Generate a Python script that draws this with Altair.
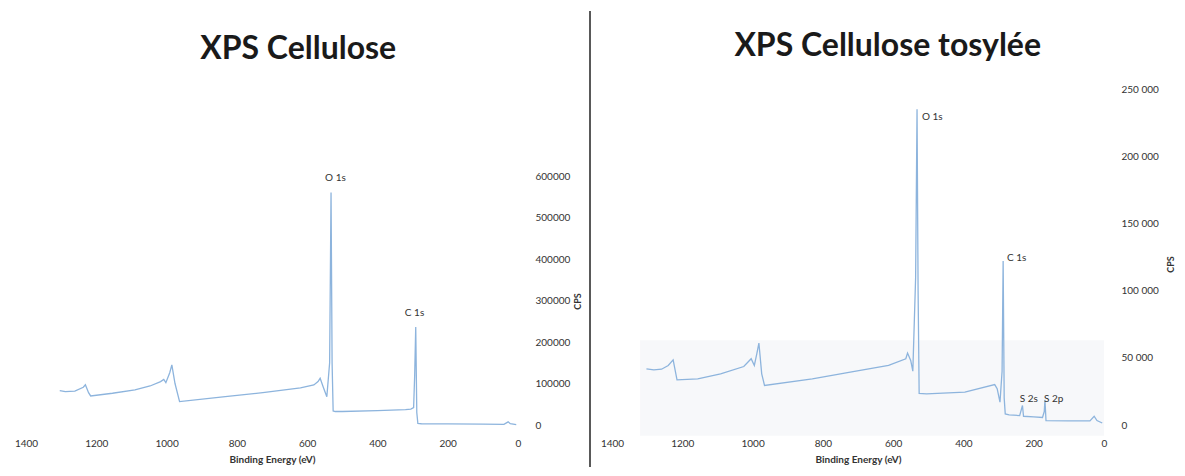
import altair as alt
import pandas as pd

# ---------------- data: XPS Cellulose ----------------
cel_be = [1304, 1288, 1261, 1237, 1231, 1222, 1216, 1154, 1090, 1047, 1017, 1008, 1002,
          991, 985, 976, 963, 833, 726, 619, 581, 569, 563, 554, 544, 536, 532, 529, 526,
          520, 500, 400, 320, 305, 297, 294, 291, 288, 285, 275, 200, 100, 40, 28, 22, 5]
cel_cps = [83000, 80500, 81500, 91000, 97000, 78000, 70000, 76500, 84500, 94000, 104500,
           110000, 102000, 126000, 145000, 100000, 56500, 68500, 78000, 89500, 96500,
           104500, 112500, 91000, 68000, 150000, 560000, 150000, 34000, 32500, 32500,
           34500, 37000, 38500, 42000, 120000, 236000, 30000, 4000, 3000, 2500, 2000,
           1500, 7500, 3000, 800]
cel_lab_txt = ["O 1s", "C 1s"]
cel_lab_be = [549, 322]
cel_lab_cps = [595000, 270000]
cel_ticks = [0, 100000, 200000, 300000, 400000, 500000, 600000]

# ---------------- data: XPS Cellulose tosylée ----------------
tos_be = [1302, 1281, 1259, 1240, 1226, 1215, 1156, 1091, 1025, 1004, 995, 988, 982, 974,
          966, 830, 722, 613, 564, 559, 550, 544, 536, 532, 529, 526, 505, 396, 311, 304,
          296, 290, 287, 284, 281, 270, 240, 232, 229, 200, 175, 170, 168, 165, 100, 40,
          28, 20, 5]
tos_cps = [41800, 41000, 41500, 44300, 48500, 33600, 34300, 38100, 43500, 49300, 44300,
           53000, 61000, 38100, 29400, 34300, 39300, 44300, 49300, 53500, 48000, 40000,
           110000, 235000, 100000, 23500, 23100, 24400, 30100, 27000, 17000, 40000,
           122000, 20000, 8200, 7600, 7000, 14500, 6500, 6000, 5600, 10000, 18700, 3200,
           3000, 3000, 6500, 3300, 1500]
tos_lab_txt = ["O 1s", "C 1s", "S 2s", "S 2p"]
tos_lab_be = [518, 276, 240, 171]
tos_lab_cps = [229000, 124000, 19400, 19400]
tos_ticks = [0, 50000, 100000, 150000, 200000, 250000]
tos_band_be = [1320, 0]
tos_band_cps = [-8000, 63000]

x_ticks = [0, 200, 400, 600, 800, 1000, 1200, 1400]

FONT = "Lato"
LINE_COLOR = "#8db4dd"
TXT = "#333333"
PLOT_W = 492
PLOT_H = 336


def x_enc():
    return alt.X(
        "be:Q",
        scale=alt.Scale(domain=[0, 1400], reverse=True, nice=False),
        axis=alt.Axis(values=x_ticks, format="d", title="Binding Energy (eV)", grid=False,
                      domain=False, ticks=False, labelPadding=13, titlePadding=6,
                      labelFontSize=10, titleFontSize=10, titleFontWeight="bold",
                      labelFlush=False, labelFont=FONT, titleFont=FONT,
                      labelColor=TXT, titleColor=TXT),
    )


def panel(be, cps, lab_txt, lab_be, lab_cps, ymax, ticks, label_expr, title,
          title_x, title_y, title_offset, band=None):
    yscale = alt.Scale(domain=[0, ymax], nice=False, zero=True)
    yaxis = alt.Axis(orient="right", values=ticks, labelExpr=label_expr, grid=False,
                     domain=False, ticks=False, labelPadding=17, labelFontSize=10,
                     labelFont=FONT, labelColor=TXT, title="CPS", titleAngle=270,
                     titleX=title_x, titleY=title_y, titleAlign="center",
                     titleBaseline="middle", titleFontSize=9, titleFontWeight="bold",
                     titleFont=FONT, titleColor=TXT)
    df = pd.DataFrame({"be": be, "cps": cps})
    line = alt.Chart(df).mark_line(color=LINE_COLOR, strokeWidth=1.3).encode(
        x=x_enc(), y=alt.Y("cps:Q", scale=yscale, axis=yaxis)
    )
    lab = pd.DataFrame({"be": lab_be, "cps": lab_cps, "t": lab_txt})
    text = alt.Chart(lab).mark_text(align="left", baseline="middle", font=FONT,
                                    fontSize=10, color=TXT).encode(
        x=alt.X("be:Q", scale=alt.Scale(domain=[0, 1400], reverse=True, nice=False)),
        y=alt.Y("cps:Q", scale=yscale), text="t:N"
    )
    layers = []
    if band is not None:
        bdf = pd.DataFrame({"x1": [band[0][0]], "x2": [band[0][1]],
                            "y1": [band[1][0]], "y2": [band[1][1]]})
        rect = alt.Chart(bdf).mark_rect(color="#f7f8fa", clip=False).encode(
            x=alt.X("x1:Q", scale=alt.Scale(domain=[0, 1400], reverse=True, nice=False)),
            x2="x2:Q",
            y=alt.Y("y1:Q", scale=yscale),
            y2="y2:Q",
        )
        layers.append(rect)
    layers += [line, text]
    return alt.layer(*layers).properties(
        width=PLOT_W, height=PLOT_H,
        title=alt.TitleParams(text=title, font=FONT, fontSize=32, fontWeight="bold",
                              color="#1a1a1a", anchor="middle", frame="bounds",
                              baseline="alphabetic", offset=title_offset),
    )


left = panel(cel_be, cel_cps, cel_lab_txt, cel_lab_be, cel_lab_cps,
             600000 * PLOT_H / 249, cel_ticks, "format(datum.value, 'd')",
             "XPS Cellulose", 59, 212, -2)
right = panel(tos_be, tos_cps, tos_lab_txt, tos_lab_be, tos_lab_cps,
              250000, tos_ticks, "replace(format(datum.value, ','), ',', ' ')",
              "XPS Cellulose tosylée", 66, 175, -4, band=(tos_band_be, tos_band_cps))

divider = alt.Chart(pd.DataFrame({"d": [0]})).mark_rule(color="#222222", strokeWidth=1.5).encode(
    x=alt.value(8), y=alt.value(-78), y2=alt.value(378)
).properties(width=18, height=PLOT_H)

chart = alt.hconcat(left, divider, right, spacing=0).properties(
    padding={"left": 6, "top": 2, "right": 0, "bottom": 0}
).configure_view(stroke=None)

chart.save("out.html", embed_options={"renderer": "svg", "actions": False})
